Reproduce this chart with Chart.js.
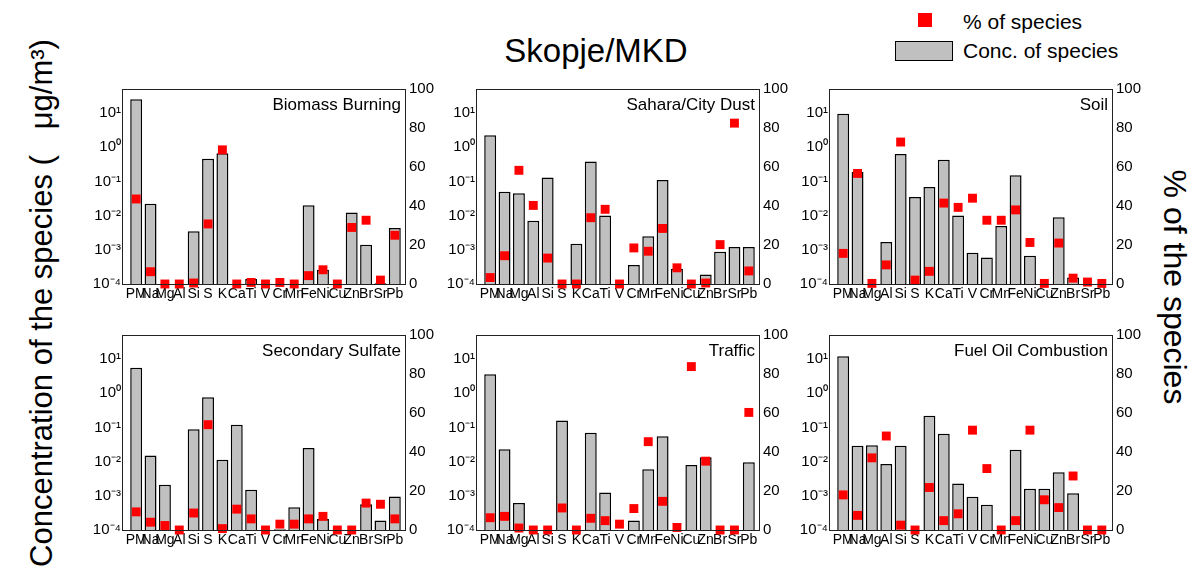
<!DOCTYPE html>
<html><head><meta charset="utf-8">
<script src="https://cdn.jsdelivr.net/npm/chart.js@4.4.1/dist/chart.umd.min.js"></script>
<style>
body{margin:0;background:#fff;width:1197px;height:569px;overflow:hidden;position:relative;font-family:Arial,"Liberation Sans",sans-serif;}
canvas{position:absolute;}
.t{position:absolute;white-space:pre;color:#000;line-height:1;}
</style></head><body>
<div class="t" id="main" style="font-size:33px;left:596px;top:34px;transform:translateX(-50%);">Skopje/MKD</div>
<div style="position:absolute;left:918px;top:13px;width:14px;height:14px;background:#ff0000;"></div>
<div class="t" style="font-size:21px;left:963px;top:11px;">% of species</div>
<div style="position:absolute;left:895px;top:41px;width:56px;height:18px;background:#c0c0c0;border:1px solid #000;"></div>
<div class="t" style="font-size:21px;left:963px;top:40px;">Conc. of species</div>
<div class="t" style="font-size:31px;left:41px;top:303px;transform:translate(-50%,-50%) rotate(-90deg);">Concentration of the species (   μg/m³)</div>
<div class="t" style="font-size:32px;left:1175px;top:287px;transform:translate(-50%,-50%) rotate(90deg);">% of the species</div>
<script>
const categories = ['PM','Na','Mg','Al','Si','S','K','Ca','Ti','V','Cr','Mn','Fe','Ni','Cu','Zn','Br','Sr','Pb'];

const biomassConc = [25, 0.022, null, null, 0.0035, 0.46, 0.66, null, 1.4e-4, null, null, null, 0.02, 2.6e-4, null, 0.0124, 0.0014, 1.05e-4, 0.0043];
const biomassPct  = [43.6, 6.3, 0, 0, 0.5, 30.8, 68.8, 0, 0.8, 0, 0.8, 0, 4.3, 7.3, 0, 29, 32.7, 2, 25];

const saharaConc = [2.24, 0.05, 0.045, 0.0071, 0.13, null, 0.0015, 0.38, 0.01, null, 3.6e-4, 0.0025, 0.11, 2.8e-4, null, 1.9e-4, 8.8e-4, 0.0012, 0.0012];
const saharaPct  = [3.3, 14.5, 58.3, 40.3, 13.3, 0, 0, 34, 38.3, 0, 18.5, 16.8, 28.5, 8.3, 0, 0.5, 20.2, 82.5, 6.7];

const soilConc = [9.5, 0.19, null, 0.0017, 0.63, 0.035, 0.069, 0.43, 0.01, 8.2e-4, 6e-4, 0.005, 0.15, 6.7e-4, null, 0.009, 1.55e-4, null, null];
const soilPct  = [15.7, 56.7, 0.3, 9.8, 72.8, 2, 6.5, 41.5, 39.3, 44, 32.7, 32.7, 38, 21.3, 0.3, 21, 3, 1, 0.3];

const sulfateConc = [5.5, 0.015, 0.0021, null, 0.088, 0.76, 0.0114, 0.12, 0.0015, null, 1.05e-4, 4.6e-4, 0.025, 2.1e-4, null, null, 5.7e-4, 1.9e-4, 9.5e-4];
const sulfatePct  = [9.3, 4, 2.3, 0, 8.7, 54, 0.7, 10.7, 5.7, 0, 3, 3, 5.7, 7, 0, 0, 13.8, 13.2, 5.7];

const trafficConc = [3.6, 0.023, 6.2e-4, null, null, 0.16, null, 0.07, 0.00125, null, 1.9e-4, 0.006, 0.055, null, 0.0079, 0.0134, null, null, 0.0095];
const trafficPct  = [6.3, 7, 1, 0, 0, 11.3, 0, 6, 4.8, 3, 11, 45.3, 14.7, 1.3, 83.8, 35.3, 0, 0, 60.3];

const fuelConc = [12, 0.029, 0.03, 0.0085, 0.029, null, 0.22, 0.065, 0.0023, 9.3e-4, 5.5e-4, null, 0.022, 0.0016, 0.0016, 0.0049, 0.00118, null, null];
const fuelPct  = [18, 7.5, 37, 48.2, 2.5, 0, 21.8, 4.8, 8.3, 51.2, 31.5, 0, 4.8, 51.2, 15.5, 11.5, 27.7, 0, 0];

const logTicks = [1e-4, 1e-3, 1e-2, 1e-1, 1, 10];
const logTickLabels = ['10\u207B\u2074', '10\u207B\u00B3', '10\u207B\u00B2', '10\u207B\u00B9', '10\u2070', '10\u00B9'];
const pctTicks = [0, 20, 40, 60, 80, 100];

const panelTitles = ['Biomass Burning', 'Sahara/City Dust', 'Soil', 'Secondary Sulfate', 'Traffic', 'Fuel Oil Combustion'];
const panelConc = [biomassConc, saharaConc, soilConc, sulfateConc, trafficConc, fuelConc];
const panelPct = [biomassPct, saharaPct, soilPct, sulfatePct, trafficPct, fuelPct];

const colLefts = [122, 476, 829];
const rowTops = [84, 330];

Chart.defaults.font.family = 'Arial, "Liberation Sans", sans-serif';
Chart.defaults.color = '#000';

const framePlugin = {
  id: 'frame',
  afterDraw(chart, args, opts) {
    const ca = chart.chartArea, ctx = chart.ctx;
    ctx.save();
    ctx.strokeStyle = '#222';
    ctx.lineWidth = 1;
    ctx.strokeRect(ca.left - 7 + 0.5, ca.top + 0.5, 283, ca.bottom - ca.top);
    ctx.fillStyle = '#000';
    ctx.font = '17px Arial, "Liberation Sans", sans-serif';
    ctx.textAlign = 'right';
    ctx.textBaseline = 'middle';
    ctx.fillText(opts.title, ca.right - 1, ca.top + 16);
    ctx.restore();
  }
};

for (let i = 0; i < 6; i++) {
  const L = colLefts[i % 3], T = rowTops[Math.floor(i / 3)];
  const c = document.createElement('canvas');
  const W = 380, H = 234;
  c.width = W; c.height = H;
  c.style.width = W + 'px'; c.style.height = H + 'px';
  c.style.left = (L - 60) + 'px'; c.style.top = (T - 12) + 'px';
  document.body.appendChild(c);
  new Chart(c, {
    type: 'bar',
    data: {
      labels: categories,
      datasets: [
        {
          type: 'line',
          label: '% of species',
          data: panelPct[i],
          yAxisID: 'y2',
          showLine: false,
          pointStyle: 'rect',
          pointRadius: 6.3,
          pointBackgroundColor: '#ff0000',
          pointBorderWidth: 0,
          borderWidth: 0,
          clip: false,
          order: 0
        },
        {
          type: 'bar',
          label: 'Conc. of species',
          data: panelConc[i],
          yAxisID: 'y',
          backgroundColor: '#c0c0c0',
          borderColor: '#000',
          borderWidth: 1.5,
          barPercentage: 0.83,
          categoryPercentage: 1,
          order: 1
        }
      ]
    },
    options: {
      responsive: false,
      animation: false,
      devicePixelRatio: 1,
      layout: { padding: { top: 12, left: 0, right: 0, bottom: 0 } },
      plugins: { legend: { display: false }, tooltip: { enabled: false }, frame: { title: panelTitles[i] } },
      scales: {
        x: {
          offset: true,
          grid: { display: false, drawTicks: false },
          border: { display: false },
          ticks: { autoSkip: false, maxRotation: 0, minRotation: 0, padding: 2, font: { size: 14 }, color: '#000' },
          afterFit: s => { s.height = 22; }
        },
        y: {
          type: 'logarithmic',
          position: 'left',
          min: 1e-4,
          max: Math.pow(10, 1.7),
          grid: { display: false, drawTicks: false, tickLength: 0 },
          border: { display: false },
          afterBuildTicks: s => { s.ticks = logTicks.map(v => ({ value: v })); },
          ticks: { padding: 8, font: { size: 15 }, color: '#000', callback: (v, idx) => logTickLabels[idx] },
          afterFit: s => { s.width = 67; }
        },
        y2: {
          type: 'linear',
          position: 'right',
          min: 0, max: 100,
          grid: { display: false, drawTicks: false, tickLength: 0 },
          border: { display: false },
          afterBuildTicks: s => { s.ticks = pctTicks.map(v => ({ value: v })); },
          ticks: { padding: 7, font: { size: 15 }, color: '#000' },
          afterFit: s => { s.width = 40; }
        }
      }
    },
    plugins: [framePlugin]
  });
}
</script>
</body></html>
